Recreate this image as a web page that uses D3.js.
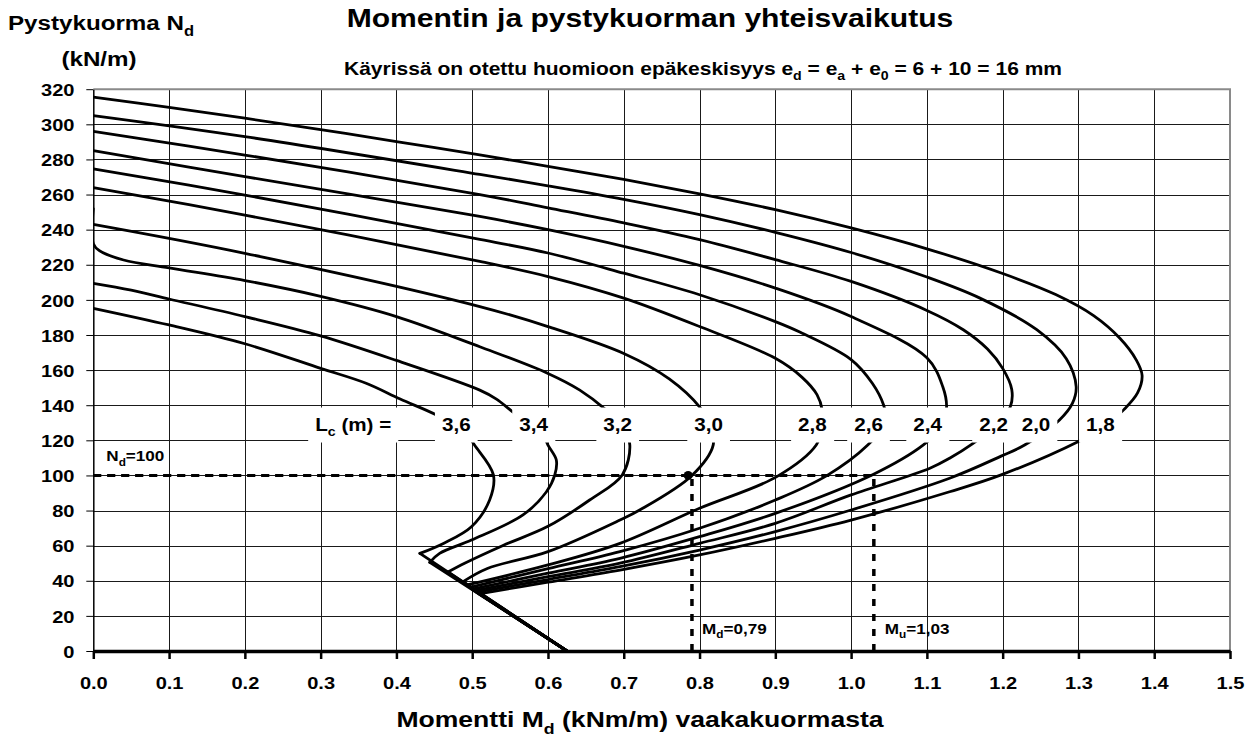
<!DOCTYPE html>
<html lang="fi">
  <head>
    <meta charset="utf-8">
<style>
body { margin: 0; background: #fff; }

svg text {
    font-family: "Liberation Sans", Arial, sans-serif;
    font-weight: bold;
    fill: #000;
}

.grid line { stroke: #1a1a1a; stroke-width: 1; shape-rendering: crispEdges; }
.grid path { display: none; }

.curve {
    fill: none;
    stroke: #000;
    stroke-width: 2.8;
    stroke-linejoin: round;
    stroke-linecap: round;
}
</style>
</head>
<body>
<script src="https://cdn.jsdelivr.net/npm/d3@7"></script>
<svg id="chart" width="1250" height="740"></svg>
<script>
// ticks
var xTicks = [0, 0.1, 0.2, 0.3, 0.4, 0.5, 0.6, 0.7, 0.8, 0.9, 1.0, 1.1, 1.2, 1.3, 1.4, 1.5];
var yTicks = [0, 20, 40, 60, 80, 100, 120, 140, 160, 180, 200, 220, 240, 260, 280, 300, 320];

// buckling lengths Lc (m) and where their labels sit (M value, N value)
var lcLabels = ["3,6", "3,4", "3,2", "3,0", "2,8", "2,6", "2,4", "2,2", "2,0", "1,8"];
var labelAt = [0.479, 0.581, 0.692, 0.812, 0.949, 1.023, 1.101, 1.188, 1.244, 1.329];
var lcTitleAt = 0.343;
var labelN = 129;

// curves [M (kNm/m), N (kN/m)], last point = foot of the common line
var curve36 = [[0,195.2],[0.1,185.7],[0.2,175],[0.3,161],[0.36,152.5],[0.405,143.5],[0.453,134.4],[0.49,125],
  [0.503,117.3],[0.528,100.3],[0.523,86],[0.499,70.8],[0.462,61.3],[0.431,55.6],[0.625,0]];
var curve34 = [[0,209.4],[0.05,205.5],[0.1,200.5],[0.2,190.5],[0.3,179.5],[0.4,165.5],[0.51,148.6],[0.532,143.5],
  [0.556,135.4],[0.59,126],[0.6,117.3],[0.611,108.8],[0.609,100.3],[0.598,90.7],[0.567,77.5],[0.499,63.2],
  [0.457,55.6],[0.444,50.5],[0.625,0]];
var curve32 = [[0,252],[0,232],[0.008,228],[0.04,222.7],[0.1,218.2],[0.2,211],[0.3,202],[0.4,190.5],[0.51,173.3],
  [0.6,158.1],[0.642,148.6],[0.677,137.2],[0.7,127],[0.708,117.3],[0.698,100.3],[0.655,86],[0.6,71],[0.54,60],
  [0.49,50],[0.468,45],[0.625,0]];
var curve30 = [[0,243],[0.2,226.5],[0.51,196.2],[0.6,184.8],[0.7,169.5],[0.76,155],[0.8,139],[0.814,128],[0.818,117.3],
  [0.79,100],[0.721,80.3],[0.695,74.6],[0.6,56.6],[0.52,47],[0.488,39.5],[0.625,0]];
var curve28 = [[0,264],[0.2,248.3],[0.51,221.9],[0.6,213.3],[0.7,201],[0.8,184.8],[0.9,166.7],[0.935,156],[0.955,146],
  [0.962,137],[0.962,128],[0.954,117.3],[0.902,99.3],[0.8,81.3],[0.695,61.3],[0.6,49],[0.493,37.6],[0.625,0]];
var curve26 = [[0,274.6],[0.2,259.7],[0.51,234.5],[0.6,226.7],[0.7,215.2],[0.8,202.9],[0.9,187.6],[0.933,181.5],
  [1.0,166],[1.028,152.5],[1.043,140],[1.045,135],[1.04,127],[1.022,117.3],[0.968,99.9],[0.9,86],[0.8,69.9],
  [0.695,56.6],[0.6,46.9],[0.497,36.3],[0.625,0]];
var curve24 = [[0,285],[0.2,270.2],[0.51,247.5],[0.6,240],[0.7,230.5],[0.8,219.6],[0.9,206.7],[1.0,190.5],[1.1,167],
  [1.121,150.5],[1.126,139],[1.12,128],[1.095,117.3],[1.029,100.6],[0.9,78.4],[0.8,65.1],[0.695,52.8],[0.6,44.3],
  [0.5,35.3],[0.625,0]];
var curve22 = [[0,296],[0.2,282.5],[0.51,260],[0.6,252.4],[0.7,243.8],[0.8,234.3],[0.9,222.9],[1.0,210.5],[1.1,194],
  [1.148,183],[1.18,172],[1.2,161],[1.212,149],[1.21,139],[1.19,128],[1.161,118.3],[1.13,109.8],[1.104,104.1],
  [1.0,88.9],[0.9,72.7],[0.8,61.3],[0.695,50],[0.6,42.3],[0.503,34.4],[0.625,0]];
var curve20 = [[0,305],[0.2,293],[0.51,271.5],[0.6,265],[0.7,257.3],[0.8,248.6],[0.9,238.5],[1.0,227],[1.1,213],
  [1.17,201],[1.245,183],[1.284,166.5],[1.297,150.5],[1.292,141],[1.275,131.6],[1.229,117.3],[1.198,111],[1.13,98.4],
  [1.0,80.3],[0.9,68],[0.8,57.5],[0.695,48],[0.6,40.7],[0.506,33.5],[0.625,0]];
var curve18 = [[0,315.5],[0.1,309.6],[0.2,303.5],[0.3,297],[0.4,290.2],[0.51,282.6],[0.6,276],[0.7,268.6],[0.8,260.4],
  [0.9,251.4],[1.0,241],[1.1,229.1],[1.2,215],[1.27,203],[1.32,191],[1.355,178],[1.376,166],[1.384,157],[1.378,147],
  [1.36,137.5],[1.335,128],[1.302,119.8],[1.198,100.3],[1.13,90.7],[1.0,74.6],[0.9,64.2],[0.8,54.7],[0.695,46.1],
  [0.6,39.2],[0.509,32.6],[0.625,0]];

var curves = [curve36, curve34, curve32, curve30, curve28, curve26, curve24, curve22, curve20, curve18];

// design point
var ndValue = 100;
var mdValue = 0.79;
var muValue = 1.03;
var designPoint = [0.785, 100];

var svg = d3.select("#chart"),
    SX = 1.18;

var x = d3.scaleLinear().domain([0, 1.5]).range([93.3, 1230]);
var y = d3.scaleLinear().domain([0, 320]).range([651, 89.2]);

// text helper, parts = [[text, isSub], ...]
function label(x0, y0, size, anchor, parts) {
  var t = svg.append("text")
      .attr("transform", "translate(" + x0 + "," + y0 + ") scale(" + SX + ",1)")
      .attr("text-anchor", anchor)
      .style("font-size", size + "px");
  var down = 0;
  parts.forEach(function(p) {
    var s = t.append("tspan").text(p[0]);
    var want = p[1] ? size * 0.3 : 0;
    if (want != down) s.attr("dy", (want - down) + "px");
    down = want;
    if (p[1]) s.style("font-size", Math.round(size * 0.68) + "px");
  });
  return t;
}

svg.append("clipPath").attr("id", "plot")
  .append("rect")
    .attr("x", x(0)).attr("y", y(320))
    .attr("width", x(1.5) - x(0)).attr("height", y(0) - y(320));

// grid
svg.append("g").attr("class", "grid")
    .attr("transform", "translate(0," + y(0) + ")")
    .call(d3.axisBottom(x).tickValues(xTicks.slice(1, -1)).tickSize(-(y(0) - y(320))).tickFormat(""));
svg.append("g").attr("class", "grid")
    .attr("transform", "translate(" + x(0) + ",0)")
    .call(d3.axisLeft(y).tickValues(yTicks.slice(1, -1)).tickSize(-(x(1.5) - x(0))).tickFormat(""));

// top and right border
svg.append("path")
    .attr("d", "M" + x(0) + "," + y(320) + "H" + x(1.5) + "V" + y(0))
    .attr("fill", "none").attr("stroke", "#8a8a8a").attr("stroke-width", 2);

// curves: smooth part, then straight run down the common line
var smooth = d3.line()
    .x(function(d) { return x(d[0]); })
    .y(function(d) { return y(d[1]); })
    .curve(d3.curveCatmullRom.alpha(0.5));
var straight = d3.line()
    .x(function(d) { return x(d[0]); })
    .y(function(d) { return y(d[1]); });

var cg = svg.append("g").attr("clip-path", "url(#plot)");
cg.selectAll("path.upper")
    .data(curves)
    .enter().append("path")
    .attr("class", "curve upper")
    .attr("d", function(d) { return smooth(d.slice(0, -1)); });
cg.selectAll("path.foot")
    .data(curves)
    .enter().append("path")
    .attr("class", "curve foot")
    .attr("d", function(d) { return straight(d.slice(-2)); });

// Lc labels on white boxes
var boxes = svg.append("g");
var lcTitle = label(x(lcTitleAt), y(labelN) + 6, 17.5, "middle", [["L"], ["c", 1], [" (m) ="]]);
var lcTexts = lcLabels.map(function(s, i) {
  return label(x(labelAt[i]), y(labelN) + 6, 17.5, "middle", [[s]]);
});
var svgBox = svg.node().getBoundingClientRect();
[lcTitle].concat(lcTexts).forEach(function(t) {
  var b = t.node().getBoundingClientRect();
  boxes.append("rect")
      .attr("x", b.left - svgBox.left - 7)
      .attr("width", b.width + 14)
      .attr("y", y(labelN) - 17)
      .attr("height", 35)
      .attr("fill", "#fff");
});

// design point guides
var guides = svg.append("g").attr("fill", "none").attr("stroke", "#000");
guides.append("line")
    .attr("x1", x(0)).attr("x2", x(muValue)).attr("y1", y(ndValue)).attr("y2", y(ndValue))
    .attr("stroke-width", 3).attr("stroke-dasharray", "8,6");
guides.append("line")
    .attr("x1", x(0)).attr("x2", x(mdValue)).attr("y1", y(ndValue)).attr("y2", y(ndValue))
    .attr("stroke-width", 3).attr("stroke-dasharray", "3,11");
[mdValue, muValue].forEach(function(m) {
  guides.append("line")
      .attr("x1", x(m)).attr("x2", x(m)).attr("y1", y(0)).attr("y2", y(ndValue))
      .attr("stroke-width", 3.5).attr("stroke-dasharray", "7,8");
});
svg.append("circle")
    .attr("cx", x(designPoint[0])).attr("cy", y(designPoint[1])).attr("r", 4.5)
    .attr("fill", "#000");

label(x(0) + 13, y(ndValue) - 14, 14.5, "start", [["N"], ["d", 1], ["=100"]]);
label(x(mdValue) + 10, 634, 14.5, "start", [["M"], ["d", 1], ["=0,79"]]);
label(x(muValue) + 11, 634, 14.5, "start", [["M"], ["u", 1], ["=1,03"]]);

// axes
var yAxis = svg.append("g")
    .attr("transform", "translate(" + x(0) + ",0)")
    .call(d3.axisLeft(y).tickValues(yTicks).tickSize(7).tickSizeOuter(0).tickPadding(9).tickFormat(d3.format("d")));
yAxis.select(".domain").attr("stroke", "#000").attr("stroke-width", 1.5);
yAxis.selectAll(".tick line").attr("stroke", "#000").attr("stroke-width", 1);
yAxis.selectAll("text")
    .attr("transform", "scale(" + SX + ",1)")
    .attr("dy", "0.36em")
    .style("font-size", "17px").style("font-family", null);

var xAxis = svg.append("g")
    .attr("transform", "translate(0," + y(0) + ")")
    .call(d3.axisBottom(x).tickValues(xTicks).tickSize(8).tickSizeOuter(0).tickPadding(18).tickFormat(d3.format(".1f")));
xAxis.select(".domain").attr("stroke", "#000").attr("stroke-width", 3.5);
xAxis.selectAll(".tick line").attr("stroke", "#000").attr("stroke-width", 2.5);
xAxis.selectAll("text")
    .attr("transform", "scale(" + SX + ",1)")
    .style("font-size", "17px").style("font-family", null);

// titles
label(650, 27, 25.5, "middle", [["Momentin ja pystykuorman yhteisvaikutus"]]);
label(703, 75, 17.8, "middle", [["Käyrissä on otettu huomioon epäkeskisyys e"], ["d", 1], [" = e"], ["a", 1],
  [" + e"], ["0", 1], [" = 6 + 10 = 16 mm"]]);
label(101, 30, 20.5, "middle", [["Pystykuorma N"], ["d", 1]]);
label(99, 66, 20.5, "middle", [["(kN/m)"]]);
label(640, 727, 22.5, "middle", [["Momentti M"], ["d", 1], [" (kNm/m) vaakakuormasta"]]);
</script>
</body>
</html>
